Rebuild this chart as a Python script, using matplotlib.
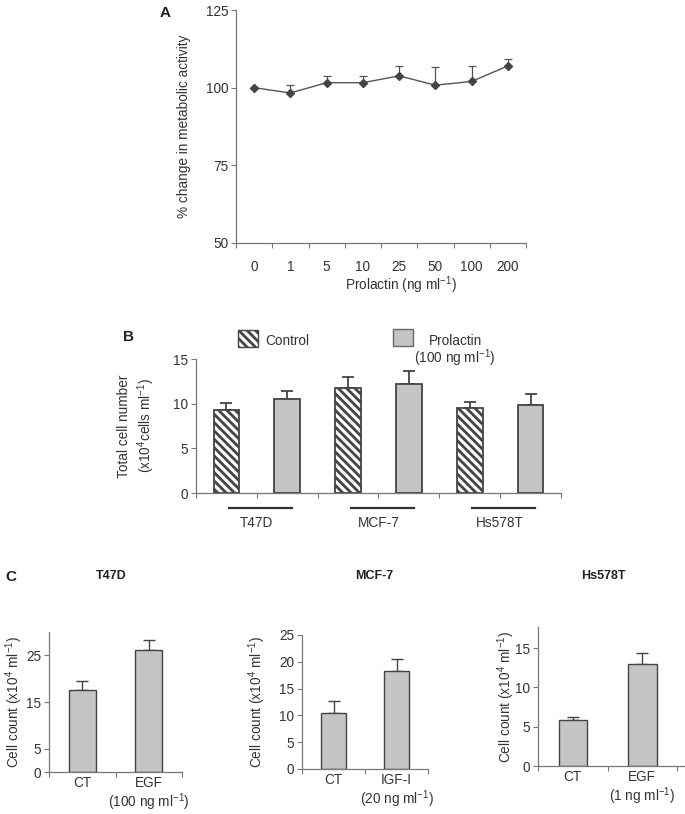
import numpy as np
import matplotlib
matplotlib.use('Agg')
import matplotlib.pyplot as plt

plt.rcParams['font.family'] = ['Liberation Sans', 'DejaVu Sans']
plt.rcParams['mathtext.fontset'] = 'custom'
plt.rcParams['mathtext.rm'] = 'Liberation Sans'
plt.rcParams['mathtext.it'] = 'Liberation Sans:italic'
plt.rcParams['hatch.linewidth'] = 2.0
plt.rcParams['hatch.color'] = '#111111'

# Panel A - metabolic activity vs prolactin dose
doses = ['0', '1', '5', '10', '25', '50', '100', '200']
activity = [100, 98.3, 101.6, 101.6, 103.8, 100.8, 102.0, 107.0]
activity_err = [0, 2.4, 2.2, 2.2, 3.2, 6.0, 5.0, 2.1]

# Panel B - total cell number
cell_lines = ['T47D', 'MCF-7', 'Hs578T']
control = [9.3, 11.8, 9.55]
control_err = [0.75, 1.2, 0.65]
prolactin = [10.5, 12.2, 9.8]
prolactin_err = [0.9, 1.45, 1.25]

# Panel C - growth factor response
c_titles = ['T47D', 'MCF-7', 'Hs578T']
c_xlabels = [['CT', 'EGF\n(100 ng ml$^{-1}$)'],
             ['CT', 'IGF-I\n(20 ng ml$^{-1}$)'],
             ['CT', 'EGF\n(1 ng ml$^{-1}$)']]
c_counts = [[17.5, 26.2], [10.4, 18.25], [5.85, 12.95]]
c_errs = [[1.9, 2.0], [2.2, 2.35], [0.4, 1.5]]
c_yticks = [[0, 5, 15, 25], [0, 5, 10, 15, 20, 25], [0, 5, 10, 15]]
c_ymax = [30, 25, 17.7]

W, H = 685, 814
fig = plt.figure(figsize=(W/100, H/100), dpi=100)

def box(l, r, t, b):
	return [l/W, 1-b/H, (r-l)/W, (b-t)/H]

spine_c = '#777777'
text_c = '#333333'
bar_face = '#c4c4c4'
bar_edge = '#444444'
fs = 9.8
hatch = '\\\\\\\\'

def style(ax):
	for s in ['top', 'right']:
		ax.spines[s].set_visible(False)
	for s in ['left', 'bottom']:
		ax.spines[s].set_color(spine_c)
		ax.spines[s].set_linewidth(0.9)
	ax.tick_params(colors=spine_c, labelcolor=text_c, labelsize=fs, length=3.5, width=0.8)
	ax.tick_params(which='minor', colors=spine_c, length=3.5, width=0.8)

#A
axA = fig.add_axes(box(236, 526, 10, 243))
style(axA)
xa = np.arange(len(doses)) + 0.5
axA.errorbar(xa, activity, yerr=[np.zeros(len(doses)), activity_err], fmt='-', color='#555555',
	lw=1.0, marker='D', ms=4.5, mfc='#444444', mec='#444444', ecolor='#555555', elinewidth=0.9,
	capsize=3, capthick=0.9)
axA.set_xlim(0, len(doses))
axA.set_ylim(50, 125)
axA.set_yticks([50, 75, 100, 125])
axA.set_xticks(xa)
axA.set_xticklabels(doses)
axA.set_xticks(np.arange(len(doses)+1), minor=True)
axA.tick_params(axis='x', which='major', length=0, pad=12)
axA.tick_params(axis='y', pad=2)
axA.set_ylabel('% change in metabolic activity', fontsize=fs, color=text_c)
axA.yaxis.set_label_coords(-0.155, 0.5)
axA.set_xlabel('Prolactin (ng ml$^{-1}$)', fontsize=fs, color=text_c)
axA.xaxis.set_label_coords(0.57, -0.135)
fig.text(160/W, 1-13/H, 'A', fontsize=11, fontweight='bold', va='center', color='#222222')

#B
axB = fig.add_axes(box(196, 561, 359, 493))
style(axB)
xc = np.arange(len(cell_lines))*2
bw = 0.42
axB.bar(xc, control, bw, color='white', edgecolor=bar_edge, hatch=hatch, lw=1.3, zorder=2)
axB.bar(xc+1, prolactin, bw, color=bar_face, edgecolor=bar_edge, lw=1.3, zorder=2)
axB.errorbar(xc, control, yerr=[np.zeros(3), control_err], fmt='none', ecolor=bar_edge,
	elinewidth=1.3, capsize=4, capthick=1.3, zorder=1)
axB.errorbar(xc+1, prolactin, yerr=[np.zeros(3), prolactin_err], fmt='none', ecolor=bar_edge,
	elinewidth=1.3, capsize=4, capthick=1.3, zorder=1)
axB.set_xlim(-0.5, 5.5)
axB.set_ylim(0, 15)
axB.set_yticks([0, 5, 10, 15])
axB.set_xticks(np.arange(-0.5, 6, 1))
axB.set_xticklabels([])
axB.tick_params(axis='y', pad=2)
for i, name in enumerate(cell_lines):
	axB.plot([xc[i]+0.04, xc[i]+1.08], [-1.7, -1.7], color='#333333', lw=1.6, clip_on=False)
	axB.text(xc[i]+0.5, -3.4, name, ha='center', va='center', fontsize=fs, color=text_c)
axB.set_ylabel('Total cell number\n(x10$^4$cells ml$^{-1}$)', fontsize=fs, color=text_c, linespacing=1.25)
axB.yaxis.set_label_coords(-0.107, 0.5)
fig.text(123/W, 1-337/H, 'B', fontsize=11, fontweight='bold', va='center', color='#222222')
# legend boxes
fig.patches.append(plt.Rectangle((238/W, 1-347/H), 20/W, 17/H, transform=fig.transFigure,
	facecolor='white', edgecolor=bar_edge, hatch=hatch, lw=1.0))
fig.text(265/W, 1-341/H, 'Control', fontsize=fs, va='center', color=text_c)
fig.patches.append(plt.Rectangle((393/W, 1-346/H), 20/W, 17/H, transform=fig.transFigure,
	facecolor=bar_face, edgecolor='#666666', lw=1.0))
fig.text(429/W, 1-341/H, 'Prolactin', fontsize=fs, va='center', color=text_c)
fig.text(414/W, 1-358/H, '(100 ng ml$^{-1}$)', fontsize=fs, va='center', color=text_c)

#C
c_boxes = [(49, 182, 632, 772), (302, 428, 635, 769), (538, 684, 627, 766)]
c_xlim = [1.5, 1.5, 1.6]
c_title_x = [0.47, 0.57, 0.445]
c_ylab_x = [-0.18, -0.27, -0.145]
for k in range(3):
	ax = fig.add_axes(box(*c_boxes[k]))
	style(ax)
	xs = np.arange(2)
	ax.bar(xs, c_counts[k], 0.41, color=bar_face, edgecolor=bar_edge, lw=1.0, zorder=2)
	ax.errorbar(xs, c_counts[k], yerr=[np.zeros(2), c_errs[k]], fmt='none', ecolor=bar_edge,
		elinewidth=1.0, capsize=4, capthick=1.0, zorder=1)
	ax.set_xlim(-0.5, c_xlim[k])
	ax.set_ylim(0, c_ymax[k])
	ax.set_yticks(c_yticks[k])
	ax.set_xticks(xs)
	ax.set_xticklabels(c_xlabels[k], linespacing=1.08)
	ax.set_xticks([-0.5, 0.5, 1.5], minor=True)
	ax.tick_params(axis='x', which='major', length=0, pad=3)
	ax.tick_params(axis='y', pad=2)
	ax.set_ylabel('Cell count (x10$^4$ ml$^{-1}$)', fontsize=fs, color=text_c)
	ax.yaxis.set_label_coords(c_ylab_x[k], 0.5)
	h = c_boxes[k][3] - c_boxes[k][2]
	ax.text(c_title_x[k], (c_boxes[k][3]-576)/h, c_titles[k], transform=ax.transAxes,
		ha='center', va='center', fontsize=9, fontweight='bold', color='#222222')
fig.text(5/W, 1-577/H, 'C', fontsize=11, fontweight='bold', va='center', color='#222222')

fig.savefig('out.png', dpi=100)
